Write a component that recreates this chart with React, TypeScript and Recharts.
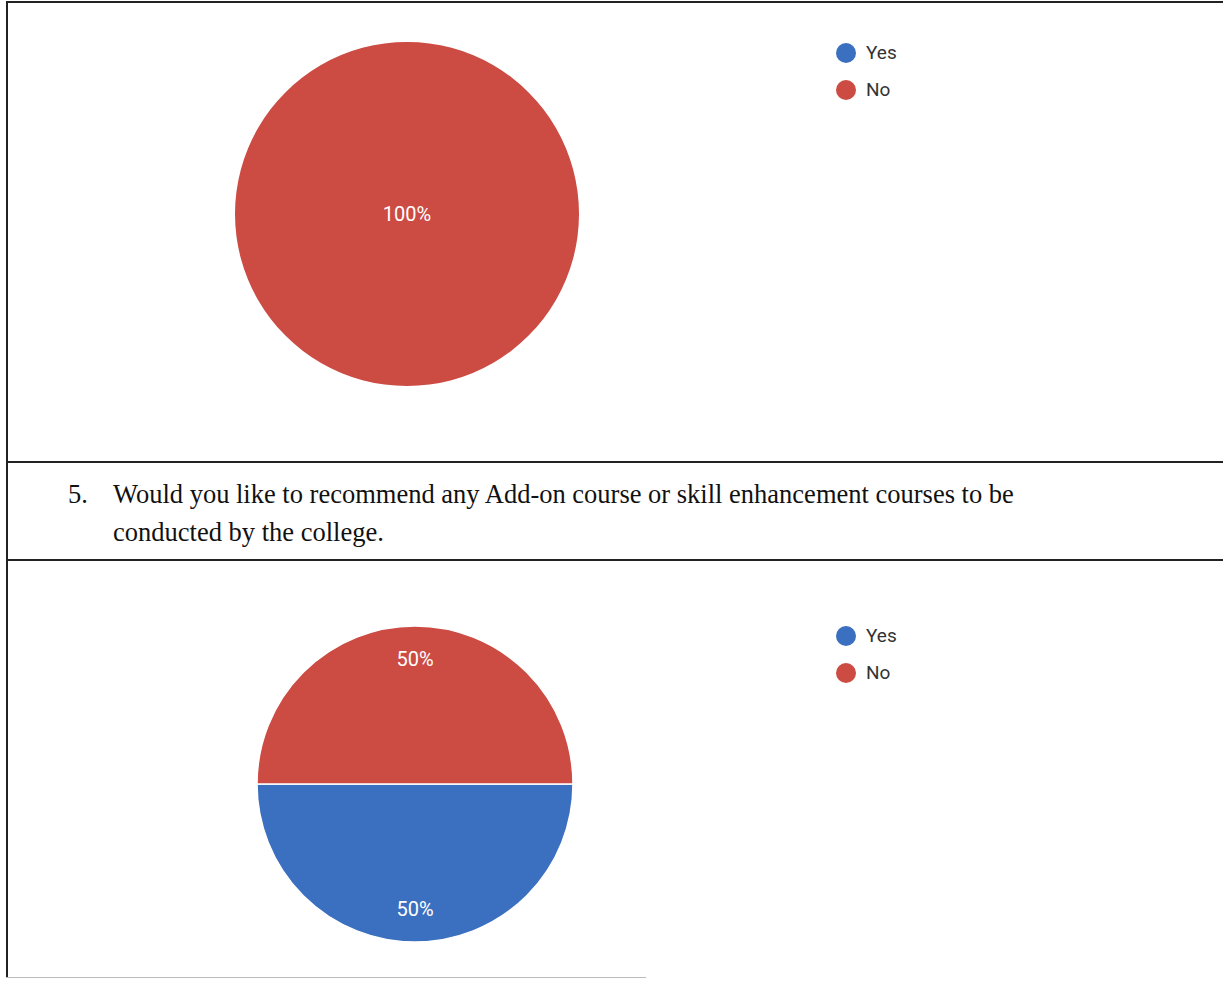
import { PieChart, Pie, Cell, Legend } from 'recharts';

const answers = ['Yes', 'No'];
const answerColors = ['#3b6fbf', '#cc4b43'];
const q4Values = [0, 100];
const q5Values = [50, 50];
const questionNumber = '5.';
const questionLines = [
  'Would you like to recommend any Add-on course or skill enhancement courses to be',
  'conducted by the college.',
];

const RADIAN = Math.PI / 180;
const sansFont = 'Roboto, "Liberation Sans", Arial, sans-serif';

function toRows(values: number[]) {
  return answers.map((name, i) => ({ name, value: values[i] }));
}

function renderPercent(props: any) {
  const { cx, cy, midAngle, outerRadius, percent, value } = props;
  if (!value) return null;
  let x = cx;
  let y = cy;
  if (percent < 1) {
    const r = outerRadius * 0.79;
    x = cx + r * Math.cos(-midAngle * RADIAN);
    y = cy + r * Math.sin(-midAngle * RADIAN);
  }
  return (
    <text
      x={x}
      y={y}
      fill="#ffffff"
      textAnchor="middle"
      dominantBaseline="central"
      style={{ fontFamily: sansFont, fontSize: 20 }}
    >
      {`${Math.round(percent * 100)}%`}
    </text>
  );
}

function LegendList({ payload }: any) {
  // keep the answer order (Yes, No) instead of the alphabetical default
  const items = [...(payload || [])].sort(
    (a: any, b: any) => answers.indexOf(a.value) - answers.indexOf(b.value)
  );
  return (
    <div>
      {items.map((entry: any) => (
        <div
          key={entry.value}
          style={{ display: 'flex', alignItems: 'center', height: 37, fontFamily: sansFont, fontSize: 19, color: '#333' }}
        >
          <svg width={20} height={20} style={{ marginRight: 10 }}>
            <circle cx={10} cy={10} r={10} fill={entry.color} />
          </svg>
          <span>{entry.value}</span>
        </div>
      ))}
    </div>
  );
}

function AnswerPie({
  values,
  width,
  height,
  cx,
  cy,
  radius,
  legendTop,
  split,
}: {
  values: number[];
  width: number;
  height: number;
  cx: number;
  cy: number;
  radius: number;
  legendTop: number;
  split: boolean;
}) {
  const data = toRows(values);
  return (
    <PieChart width={width} height={height} margin={{ top: 0, right: 0, bottom: 0, left: 0 }}>
      <Pie
        data={data}
        dataKey="value"
        nameKey="name"
        cx={cx}
        cy={cy}
        outerRadius={radius}
        startAngle={0}
        endAngle={-360}
        stroke={split ? '#ffffff' : 'none'}
        strokeWidth={split ? 1.5 : 0}
        label={renderPercent}
        labelLine={false}
        isAnimationActive={false}
      >
        {data.map((d, i) => (
          <Cell key={d.name} fill={answerColors[i]} />
        ))}
      </Pie>
      <Legend
        layout="vertical"
        align="right"
        verticalAlign="top"
        content={<LegendList />}
        wrapperStyle={{ left: 836, top: legendTop, width: 120, right: 'auto' }}
      />
    </PieChart>
  );
}

export default function App() {
  return (
    <div style={{ position: 'absolute', left: 0, top: 0, width: 1223, height: 981, background: '#fff', overflow: 'hidden' }}>
      {/* table borders */}
      <div style={{ position: 'absolute', left: 6, top: 1, width: 1217, height: 2, background: '#222' }} />
      <div style={{ position: 'absolute', left: 6, top: 1, width: 2, height: 977, background: '#222' }} />
      <div style={{ position: 'absolute', left: 6, top: 461, width: 1217, height: 2, background: '#222' }} />
      <div style={{ position: 'absolute', left: 6, top: 559, width: 1217, height: 2, background: '#222' }} />
      <div style={{ position: 'absolute', left: 6, top: 977, width: 640, height: 1, background: '#bbb' }} />

      <div style={{ position: 'absolute', left: 0, top: 0 }}>
        <AnswerPie values={q4Values} width={1223} height={461} cx={407} cy={214} radius={172} legendTop={34} split={false} />
      </div>

      <div
        style={{
          position: 'absolute',
          left: 68,
          top: 475,
          fontFamily: '"Liberation Serif", "Times New Roman", serif',
          fontSize: 26.5,
          lineHeight: '38px',
          color: '#111',
          whiteSpace: 'nowrap',
        }}
      >
        <div style={{ position: 'absolute', left: 0, top: 0 }}>{questionNumber}</div>
        {questionLines.map((line, i) => (
          <div key={i} style={{ position: 'absolute', left: 45, top: i * 38 }}>
            {line}
          </div>
        ))}
      </div>

      <div style={{ position: 'absolute', left: 0, top: 561 }}>
        <AnswerPie values={q5Values} width={1223} height={416} cx={415} cy={223} radius={158} legendTop={56} split={true} />
      </div>
    </div>
  );
}
